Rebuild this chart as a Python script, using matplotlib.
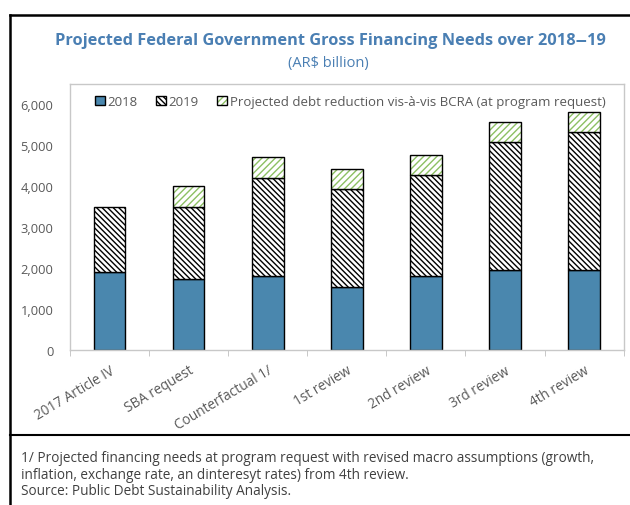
import numpy as np
import matplotlib.pyplot as plt
from matplotlib.patches import Patch
from matplotlib.lines import Line2D

plt.rcParams['font.family'] = ['Open Sans', 'DejaVu Sans']
plt.rcParams['hatch.linewidth'] = 1.0

categories = ['2017 Article IV', 'SBA request', 'Counterfactual 1/', '1st review',
              '2nd review', '3rd review', '4th review']
y2018 = [1895, 1725, 1805, 1530, 1820, 1945, 1960]
y2019 = [1595, 1770, 2400, 2390, 2450, 3120, 3350]
debt_red = [0, 500, 500, 500, 490, 490, 495]

blue = '#4a87ae'
green = '#8cc063'
grey_txt = '#595959'

fig = plt.figure(figsize=(6.3, 5.06), dpi=100)
ax = fig.add_axes([0.111, 0.306, 0.879, 0.526])

x = np.arange(len(categories))
w = 0.40
b2019 = np.array(y2018)
b_red = b2019 + np.array(y2019)

ax.bar(x, y2018, w, color=blue, edgecolor='black', linewidth=1.0, zorder=2)
ax.bar(x, y2019, w, bottom=b2019, color='white', edgecolor='black',
       hatch='\\\\\\\\\\\\', linewidth=1.0, zorder=2)
# green hatch, then black outline on top
ax.bar(x, debt_red, w, bottom=b_red, color='white', edgecolor=green,
       hatch='/////', linewidth=0, zorder=2)
has_red = np.array(debt_red) > 0
ax.bar(x[has_red], np.array(debt_red)[has_red], w, bottom=b_red[has_red],
       fill=False, edgecolor='black', linewidth=1.0, zorder=3)

ax.set_xlim(-0.5, len(categories) - 0.5)
ax.set_ylim(0, 6490)
ax.set_yticks(range(0, 6001, 1000))
ax.set_yticklabels([f'{v:,}' for v in range(0, 6001, 1000)])
ax.set_xticks(x)
ax.set_xticklabels(categories, rotation=31, ha='right', rotation_mode='anchor')
ax.set_xticks(np.arange(-0.5, len(categories), 1), minor=True)
ax.tick_params(axis='x', which='major', length=0, pad=9, labelsize=9.8, labelcolor=grey_txt)
ax.tick_params(axis='x', which='minor', length=4, color='#bfbfbf')
ax.tick_params(axis='y', length=0, pad=12, labelsize=9.3, labelcolor=grey_txt)
for s in ax.spines.values():
    s.set_color('#c8c8c8')
    s.set_linewidth(1.0)

h1 = Patch(facecolor=blue, edgecolor='black', linewidth=1.0)
h2 = Patch(facecolor='white', edgecolor='black', hatch='\\\\\\\\\\\\', linewidth=1.0)
h3 = (Patch(facecolor='white', edgecolor=green, hatch='/////', linewidth=0),
      Patch(fill=False, edgecolor='black', linewidth=1.0))
ax.legend([h1, h2, h3], ['2018', '2019', 'Projected debt reduction vis-à-vis BCRA (at program request)'],
          loc='upper left', bbox_to_anchor=(0.025, 1.0), ncol=3, frameon=False,
          handlelength=0.75, handleheight=0.75, handletextpad=0.2, columnspacing=1.4,
          fontsize=9.5, labelcolor=grey_txt, borderaxespad=0.45)

fig.text(0.525, 0.918, 'Projected Federal Government Gross Financing Needs over 2018\u201219',
         ha='center', va='center', fontsize=11.8, fontweight='bold', color='#4a7fb3')
fig.text(0.522, 0.875, '(AR$ billion)', ha='center', va='center', fontsize=10.5, color='#4a7fb3')

foot = ['1/ Projected financing needs at program request with revised macro assumptions (growth,',
        'inflation, exchange rate, an dinteresyt rates) from 4th review.',
        'Source: Public Debt Sustainability Analysis.']
for i, line in enumerate(foot):
    fig.text(0.033, 1 - (459 + 16.5 * i) / 506, line, ha='left', va='center',
             fontsize=9.8, color='#404040')

# frame around chart
fx = 10 / 630
fig.add_artist(Line2D([fx, fx], [0, 1 - 15.5 / 506], color='black', lw=1.8))
fig.add_artist(Line2D([fx, 1], [1 - 15.5 / 506, 1 - 15.5 / 506], color='black', lw=1.8))
fig.add_artist(Line2D([fx, 1], [1 - 436 / 506, 1 - 436 / 506], color='black', lw=1.5))

fig.savefig('out.png', dpi=100)
